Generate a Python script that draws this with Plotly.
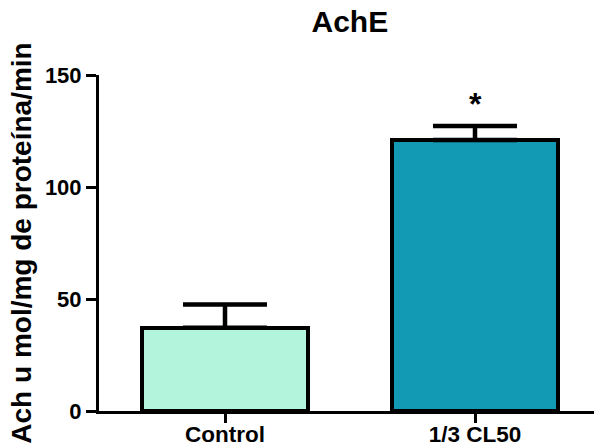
import plotly.graph_objects as go

categories = ["Control", "1/3 CL50"]
means = [37.2, 121.0]
sem = [10.4, 6.2]
colors = ["#b3f5dc", "#1299b3"]
significance = ["", "*"]
y_ticks = [0, 50, 100, 150]

FONT = "Liberation Sans, Arial, sans-serif"

fig = go.Figure()
fig.add_trace(go.Bar(
    x=[0, 1], y=means,
    width=0.664,
    marker=dict(color=colors, line=dict(color="black", width=4)),
    error_y=dict(type="data", array=sem, arrayminus=[0, 0], symmetric=False,
                 color="black", thickness=4.5, width=42),
    showlegend=False,
))

for i, s in enumerate(significance):
    if s:
        fig.add_annotation(x=i, y=means[i] + sem[i], text="<b>" + s + "</b>",
                           showarrow=False, yanchor="bottom", yshift=2,
                           font=dict(size=32, color="black", family=FONT))

fig.update_layout(
    width=594, height=447,
    margin=dict(l=99, r=0, t=75, b=36, autoexpand=False),
    paper_bgcolor="white", plot_bgcolor="white",
    font=dict(family=FONT, color="black"),
    title=dict(text="<b>AchE</b>", x=0.589, xanchor="center", y=0.975, yanchor="top",
               font=dict(size=30, family=FONT, color="black")),
    bargap=0,
)
fig.update_xaxes(
    range=[-0.504, 1.476], automargin=False,
    tickmode="array", tickvals=[0, 1], ticktext=["<b>" + c + "</b>" for c in categories],
    showline=True, linecolor="black", linewidth=3,
    ticks="outside", ticklen=9, tickwidth=3, tickcolor="black",
    ticklabelstandoff=-8,
    tickfont=dict(size=22.5, family=FONT, color="black"),
    showgrid=False, zeroline=False, fixedrange=True,
)
fig.update_yaxes(
    range=[0, 150], automargin=False,
    tickmode="array", tickvals=y_ticks, ticktext=["<b>%d</b>" % v for v in y_ticks],
    showline=True, linecolor="black", linewidth=3,
    ticks="outside", ticklen=10, tickwidth=3, tickcolor="black",
    tickfont=dict(size=22, family=FONT, color="black"),
    showgrid=False, zeroline=False,
    title=dict(text="<b>Ach u mol/mg de proteína/min</b>", standoff=6,
               font=dict(size=28, family=FONT, color="black")),
)

fig.write_html("out.html")
